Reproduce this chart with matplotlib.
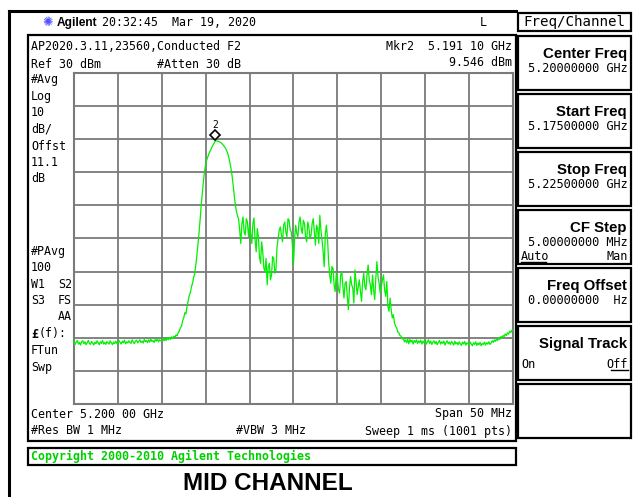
import matplotlib
matplotlib.use("Agg")
import matplotlib.pyplot as plt
import matplotlib.patches as patches
import numpy as np
from matplotlib.transforms import ScaledTranslation

# sweep settings
start_ghz = 5.175
stop_ghz = 5.225
ref_dbm = 30
db_per_div = 10
mkr_ghz = 5.19110
mkr_dbm = 9.546

# trace levels (dBm), 401 points evenly over the span (40 per division),
# read from the screen
trace_dbm = [
    # div 0
    -51.0, -52.0, -51.3, -50.8, -51.9, -51.4, -52.2, -51.1, -50.9, -51.8,
    -51.2, -52.1, -51.5, -50.8, -51.7, -52.0, -51.1, -51.6, -52.2, -51.3,
    -51.8, -50.9, -51.5, -52.1, -51.2, -51.7, -50.8, -51.9, -51.4, -52.0,
    -51.1, -51.6, -51.9, -50.9, -51.5, -52.1, -51.3, -51.8, -51.0, -51.7,
    # div 1
    -51.6, -50.8, -51.4, -51.9, -51.0, -51.5, -50.7, -51.8, -51.2, -51.6,
    -50.9, -51.4, -51.7, -50.6, -51.3, -51.8, -51.0, -50.7, -51.5, -51.1,
    -50.6, -51.4, -51.0, -51.6, -50.5, -51.2, -50.8, -51.5, -50.6, -51.3,
    -50.4, -51.1, -50.8, -51.4, -50.5, -51.0, -50.3, -51.2, -50.6, -50.9,
    # div 2
    -50.7, -50.2, -50.9, -50.3, -50.8, -50.0, -50.6, -49.9, -50.5, -49.7,
    -50.2, -49.5, -49.9, -49.1, -49.4, -48.4, -48.0, -46.9, -46.5, -44.8,
    -44.0, -42.4, -42.8, -40.5, -39.0, -37.2, -36.4, -34.6, -33.5, -31.8,
    -30.5, -28.0, -25.0, -21.5, -18.0, -14.0, -9.5, -6.0, -2.5, 0.5,
    # div 3
    2.5, 3.8, 4.8, 5.7, 6.4, 7.1, 7.8, 8.5, 9.0, 9.5,
    9.5, 9.4, 9.3, 9.1, 8.9, 8.6, 8.2, 7.8, 7.3, 6.6,
    5.8, 4.6, 3.0, 1.2, -1.0, -3.8, -7.0, -9.8, -11.8, -13.2,
    -14.2, -17.5, -21.5, -15.5, -13.5, -18.0, -19.0, -14.0, -15.0, -19.5,
    # div 4
    -16.0, -18.5, -21.5, -15.5, -13.8, -20.5, -24.0, -17.0, -19.5, -25.5,
    -27.5, -21.0, -24.0, -29.0, -30.0, -26.0, -34.0, -28.5, -27.5, -32.5,
    -31.0, -25.5, -26.0, -30.5, -29.5, -22.5, -20.0, -17.5, -16.5, -19.0,
    -21.0, -16.0, -15.0, -18.0, -19.5, -14.0, -14.5, -17.5, -18.0, -22.0,
    # div 5
    -28.0, -20.0, -16.0, -18.5, -19.5, -15.0, -13.5, -17.0, -18.5, -14.5,
    -15.5, -19.5, -21.0, -15.0, -16.5, -20.0, -19.0, -15.5, -14.0, -18.0,
    -22.0, -16.0, -17.0, -21.5, -13.0, -17.5, -20.5, -24.0, -28.5, -18.5,
    -16.0, -20.0, -27.0, -31.0, -33.5, -28.5, -29.0, -34.0, -36.0, -30.5,
    # div 6
    -32.0, -35.5, -36.5, -31.0, -30.0, -34.5, -38.0, -33.5, -33.0, -37.5,
    -41.5, -35.0, -31.5, -34.0, -35.0, -39.5, -29.5, -33.0, -37.0, -34.5,
    -32.5, -36.0, -39.0, -33.0, -30.5, -34.5, -35.5, -31.0, -28.0, -32.5,
    -34.0, -37.0, -31.0, -35.5, -38.5, -32.0, -27.0, -31.5, -33.5, -36.5,
    # div 7
    -35.0, -32.5, -31.0, -35.5, -37.5, -33.0, -40.5, -42.0, -38.0, -41.5,
    -44.0, -43.0, -45.5, -46.5, -47.0, -48.2, -48.5, -49.3, -49.5, -50.4,
    -50.0, -51.2, -50.6, -51.5, -50.4, -51.8, -50.5, -51.3, -50.7, -51.9,
    -50.8, -51.4, -50.6, -51.7, -50.9, -51.5, -50.7, -51.9, -51.0, -51.6,
    # div 8
    -50.8, -51.9, -51.2, -50.6, -51.7, -51.0, -52.0, -51.3, -50.9, -51.8,
    -51.1, -52.1, -51.4, -50.8, -51.9, -51.2, -51.7, -51.0, -52.2, -51.4,
    -50.9, -51.8, -51.3, -52.0, -51.1, -51.6, -52.2, -51.0, -51.9, -51.4,
    -52.1, -51.2, -51.8, -52.3, -51.3, -51.9, -51.1, -52.2, -51.5, -51.8,
    # div 9
    -52.2, -51.3, -51.9, -52.4, -51.5, -52.0, -51.2, -52.3, -51.6, -52.1,
    -51.4, -52.4, -51.7, -52.0, -51.3, -52.2, -51.5, -51.9, -51.2, -52.0,
    -51.6, -50.9, -51.4, -50.6, -51.1, -50.4, -50.8, -50.0, -50.5, -49.6,
    -50.0, -49.3, -49.6, -48.8, -49.3, -48.5, -48.9, -48.0, -48.4, -47.7,
    -47.8,
]

left_labels = ["#Avg", "Log", "10", "dB/", "Offst", "11.1", "dB"]
left_labels2 = ["#PAvg", "100"]
softkeys = [
    ("Center Freq", "5.20000000 GHz"),
    ("Start Freq", "5.17500000 GHz"),
    ("Stop Freq", "5.22500000 GHz"),
    ("CF Step", "5.00000000 MHz"),
    ("Freq Offset", "0.00000000  Hz"),
    ("Signal Track", ""),
    ("", ""),
]

W, H = 636, 497
MONO = "DejaVu Sans Mono"
SANS = "Liberation Sans"
fs = 8.4

fig = plt.figure(figsize=(W / 100, H / 100), dpi=100)
bg = fig.add_axes([0, 0, 1, 1])
bg.set_xlim(0, W)
bg.set_ylim(H, 0)
bg.axis("off")


def txt(x, y, s, ha="left", size=fs, family=MONO, **kw):
    bg.text(x, y, s, ha=ha, va="center", fontsize=size, family=family, **kw)


def box(x0, y0, x1, y1, lw=1.6):
    bg.add_patch(patches.Rectangle((x0, y0), x1 - x0, y1 - y0, fill=False,
                                   edgecolor="black", linewidth=lw))


# outer frame
bg.plot([9, 9], [11, H], color="black", lw=2.2)
bg.plot([9, 516], [11, 11], color="black", lw=2.2)

# header
txt(42, 23, "\u273a", family="DejaVu Sans", size=9, color="#5050ff")
txt(57, 23, "Agilent", family=SANS, size=8.6, weight="bold")
txt(102, 23, "20:32:45  Mar 19, 2020")
txt(483, 23, "L", ha="center")
box(518, 13, 631, 31)
txt(574.5, 22, "Freq/Channel", ha="center", size=10.2)

# screen box
box(28, 35, 516, 441)
txt(31, 47, "AP2020.3.11,23560,Conducted F2")
txt(31, 64, "Ref 30 dBm")
txt(157, 64, "#Atten 30 dB")
txt(512, 47, "Mkr2  5.191 10 GHz", ha="right")
txt(512, 63, "9.546 dBm", ha="right")
for i, s in enumerate(left_labels):
    txt(31, 80 + i * 16.5, s)
for i, s in enumerate(left_labels2):
    txt(31, 251 + i * 16.5, s)
txt(31, 284, "W1")
txt(72, 284, "S2", ha="right")
txt(31, 300, "S3")
txt(72, 300, "FS", ha="right")
txt(72, 317, "AA", ha="right")
txt(31, 334, "\u00a3", weight="bold")
txt(39, 334, "(f):")
txt(31, 351, "FTun")
txt(31, 367, "Swp")
txt(31, 414, "Center 5.200 00 GHz")
txt(512, 414, "Span 50 MHz", ha="right")
txt(31, 431, "#Res BW 1 MHz")
txt(236, 431, "#VBW 3 MHz")
txt(512, 431, "Sweep 1 ms (1001 pts)", ha="right")

# copyright bar
box(28, 448, 516, 465)
txt(31, 456.5, "Copyright 2000-2010 Agilent Technologies", color="#00d000",
    weight="bold")

txt(268, 483, "MID CHANNEL", ha="center", family=SANS, size=17.5, weight="bold")

# softkey panel
for i, (title, val) in enumerate(softkeys):
    y0 = 36 + i * 58
    box(518, y0, 631, y0 + 54)
    if title:
        txt(627, y0 + 18, title, ha="right", family=SANS, size=10.8, weight="bold")
    if val:
        txt(628, y0 + 32, val, ha="right", size=8.6)
# CF Step Auto/Man
txt(521, 36 + 3 * 58 + 46, "Auto", size=8.6)
bg.plot([521, 546], [36 + 3 * 58 + 52] * 2, color="black", lw=1)
txt(628, 36 + 3 * 58 + 46, "Man", ha="right", size=8.6)
# Signal Track On/Off
txt(521, 36 + 5 * 58 + 38, "On", size=8.6)
txt(628, 36 + 5 * 58 + 38, "Off", ha="right", size=8.6)
bg.plot([611, 628], [36 + 5 * 58 + 44] * 2, color="black", lw=1)

# trace graticule
gx0, gy0, gx1, gy1 = 74, 73, 513, 404
ax = fig.add_axes([gx0 / W, 1 - gy1 / H, (gx1 - gx0) / W, (gy1 - gy0) / H])
ax.set_xlim(start_ghz, stop_ghz)
ax.set_ylim(ref_dbm - 10 * db_per_div, ref_dbm)
ax.set_xticks(np.linspace(start_ghz, stop_ghz, 11))
ax.set_yticks(np.arange(ref_dbm - 10 * db_per_div, ref_dbm + 1, db_per_div))
ax.tick_params(length=0, labelbottom=False, labelleft=False)
ax.grid(True, color="#7a7a7a", lw=1.3)
for sp in ax.spines.values():
    sp.set_color("#7a7a7a")
    sp.set_linewidth(1.5)
ax.set_facecolor("white")

freqs = np.linspace(start_ghz, stop_ghz, len(trace_dbm))
ax.plot(freqs, trace_dbm, color="#00f000", lw=0.9, clip_on=False, zorder=3)

# marker 2
up = ScaledTranslation(0, 4 / 72, fig.dpi_scale_trans)
ax.plot([mkr_ghz], [mkr_dbm], marker="D", ms=5, mfc="white", mec="black",
        mew=1.2, transform=ax.transData + up, zorder=4, clip_on=False)
ax.annotate("2", (mkr_ghz, mkr_dbm), xytext=(0, 11), textcoords="offset points",
            ha="center", va="center", fontsize=7, family=MONO, zorder=4)

fig.savefig("out.png", dpi=100)
